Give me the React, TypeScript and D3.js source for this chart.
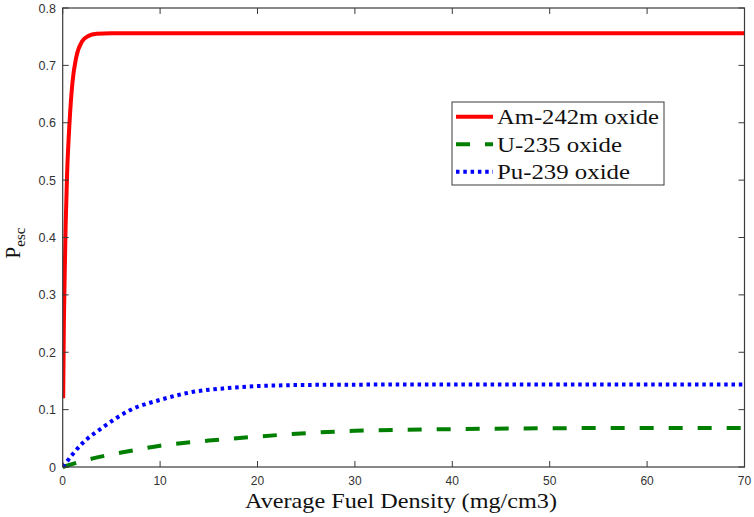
import React from 'react';
import { scaleLinear, line, curveMonotoneX } from 'd3';

const dim = {
  width: 754,
  height: 517,
  left: 62.7,
  right: 744.5,
  top: 8,
  bottom: 467,
};

const xTicks = [0, 10, 20, 30, 40, 50, 60, 70];
const yTicks = [0, 0.1, 0.2, 0.3, 0.4, 0.5, 0.6, 0.7, 0.8];

// [density, Pesc]
const amData: [number, number][] = [
  [0.05, 0.12], [0.12, 0.25], [0.2, 0.33], [0.3, 0.42], [0.45, 0.51],
  [0.7, 0.6], [1.0, 0.67], [1.4, 0.715], [2.0, 0.742], [2.6, 0.751],
  [3.5, 0.755], [5, 0.756], [20, 0.756], [40, 0.756], [70, 0.756],
];
const uData: [number, number][] = [
  [0, 0], [3.1, 0.015], [6.6, 0.027], [10, 0.037], [15, 0.046],
  [20, 0.053], [25, 0.059], [30, 0.063], [40, 0.066], [50, 0.0675],
  [60, 0.068], [70, 0.068],
];
const puData: [number, number][] = [
  [0, 0], [2, 0.041], [4.2, 0.07], [6.9, 0.099], [10, 0.117],
  [13.4, 0.131], [16.5, 0.137], [20, 0.141], [25, 0.143], [30, 0.1435],
  [40, 0.144], [50, 0.144], [60, 0.144], [70, 0.144],
];

const series = [
  { name: 'Am-242m oxide', data: amData, color: '#ff0000', dash: undefined, len: 162 },
  { name: 'U-235 oxide', data: uData, color: '#007f00', dash: '14 15', len: 125 },
  { name: 'Pu-239 oxide', data: puData, color: '#0000ff', dash: '3.5 3.8', len: 133 },
];

const axisColor = '#3a3a3a';
const tickFont = 'Liberation Sans, Arial, sans-serif';
const serif = 'Liberation Serif, Times New Roman, serif';

const App = () => {
  const x = scaleLinear().domain([0, 70]).range([dim.left, dim.right]);
  const y = scaleLinear().domain([0, 0.8]).range([dim.bottom, dim.top]);
  const path = line<[number, number]>()
    .x((d) => x(d[0]))
    .y((d) => y(d[1]))
    .curve(curveMonotoneX);

  const legend = { x: 452, y: 102, w: 212, h: 83 };

  return (
    <div style={{ position: 'absolute', left: 0, top: 0 }}>
      <svg width={dim.width} height={dim.height} style={{ display: 'block', background: '#fff' }}>
        <defs>
          <clipPath id="plot">
            <rect x={dim.left} y={dim.top - 4} width={dim.right - dim.left + 2} height={dim.bottom - dim.top + 6} />
          </clipPath>
        </defs>

        {series.map((s) => (
          <path
            key={s.name}
            d={path(s.data) || ''}
            fill="none"
            stroke={s.color}
            strokeWidth={4}
            strokeDasharray={s.dash}
            clipPath="url(#plot)"
          />
        ))}

        {/* box */}
        <rect
          x={dim.left}
          y={dim.top}
          width={dim.right - dim.left}
          height={dim.bottom - dim.top}
          fill="none"
          stroke={axisColor}
          strokeWidth={1.2}
        />

        {xTicks.map((t) => (
          <g key={'x' + t}>
            <line x1={x(t)} x2={x(t)} y1={dim.bottom} y2={dim.bottom - 6} stroke={axisColor} />
            <line x1={x(t)} x2={x(t)} y1={dim.top} y2={dim.top + 6} stroke={axisColor} />
            <text
              x={x(t)}
              y={484.5}
              textAnchor="middle"
              fontFamily={tickFont}
              fontSize={12}
              fill="#333"
            >
              {t}
            </text>
          </g>
        ))}

        {yTicks.map((t) => (
          <g key={'y' + t}>
            <line x1={dim.left} x2={dim.left + 6} y1={y(t)} y2={y(t)} stroke={axisColor} />
            <line x1={dim.right} x2={dim.right - 6} y1={y(t)} y2={y(t)} stroke={axisColor} />
            <text
              x={56}
              y={y(t)}
              dy="0.36em"
              textAnchor="end"
              fontFamily={tickFont}
              fontSize={12.5}
              fill="#333"
            >
              {t === 0 ? '0' : t.toFixed(1)}
            </text>
          </g>
        ))}

        <text
          x={401}
          y={508}
          textAnchor="middle"
          fontFamily={serif}
          fontSize={22}
          fill="#111"
          textLength={312}
          lengthAdjust="spacingAndGlyphs"
        >
          Average Fuel Density (mg/cm3)
        </text>

        <text
          transform="translate(20, 243) rotate(-90)"
          textAnchor="middle"
          fontFamily={serif}
          fontSize={21}
          fill="#111"
        >
          P
          <tspan fontSize={15} dy={5}>esc</tspan>
        </text>

        {/* legend */}
        <rect
          x={legend.x}
          y={legend.y}
          width={legend.w}
          height={legend.h}
          fill="#fff"
          stroke={axisColor}
          strokeWidth={1}
        />
        {series.map((s, i) => {
          const ly = 116.7 + i * 27.5;
          return (
            <g key={'l' + s.name}>
              <line
                x1={456}
                x2={493}
                y1={ly}
                y2={ly}
                stroke={s.color}
                strokeWidth={4}
                strokeDasharray={s.dash}
              />
              <text
                x={497}
                y={ly}
                dy="0.35em"
                fontFamily={serif}
                fontSize={22}
                fill="#111"
                textLength={s.len}
                lengthAdjust="spacingAndGlyphs"
              >
                {s.name}
              </text>
            </g>
          );
        })}
      </svg>
    </div>
  );
};

export default App;
